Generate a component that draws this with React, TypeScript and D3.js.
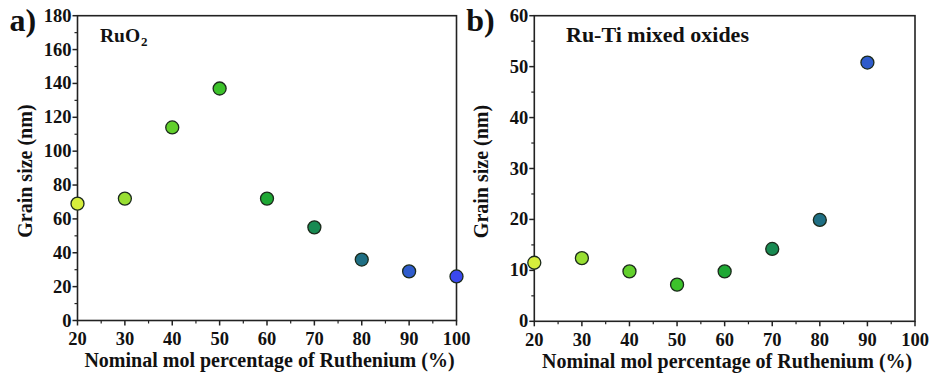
import React from "react";
import * as d3 from "d3";

const ruPercent = [20, 30, 40, 50, 60, 70, 80, 90, 100];
const grainRuO2 = [69, 72, 114, 137, 72, 55, 36, 29, 26];
const ruPercentMixed = [20, 30, 40, 50, 60, 70, 80, 90];
const grainMixed = [11.5, 12.4, 9.8, 7.2, 9.8, 14.2, 19.9, 50.8];
const pointColors = ["#d6ee3c", "#98df32", "#62d02c", "#3cc22a", "#1ea834", "#188a52", "#1f6f84", "#2f5ccc", "#3a48ee"];
const xTicks = [20, 30, 40, 50, 60, 70, 80, 90, 100];
const yTicksA = [0, 20, 40, 60, 80, 100, 120, 140, 160, 180];
const yTicksB = [0, 10, 20, 30, 40, 50, 60];

const font = "Liberation Serif, Tinos, Times New Roman, DejaVu Serif, serif";
const ts = (size: number): React.CSSProperties => ({ fontFamily: font, fontWeight: 700, fontSize: size });

type PanelProps = {
  left: number;
  right: number;
  top: number;
  bottom: number;
  xs: number[];
  ys: number[];
  yMax: number;
  yTicks: number[];
  yMinorStep: number;
  letter: string;
  title: React.ReactNode;
  titleX: number;
  titleSize: number;
};

function Panel(p: PanelProps) {
  const x = d3.scaleLinear().domain([20, 100]).range([p.left, p.right]);
  const y = d3.scaleLinear().domain([0, p.yMax]).range([p.bottom, p.top]);
  const xMinor = d3.range(25, 100, 10);
  const yMinor = d3.range(p.yMinorStep, p.yMax, p.yMinorStep * 2);
  return (
    <g>
      <rect x={p.left} y={p.top} width={p.right - p.left} height={p.bottom - p.top} fill="none" stroke="#222" strokeWidth={1.6} />
      {xTicks.map((t) => (
        <g key={"xt" + t}>
          <line x1={x(t)} x2={x(t)} y1={p.bottom} y2={p.bottom + 5} stroke="#222" strokeWidth={1.5} />
          <text x={x(t)} y={p.bottom + 24.5} textAnchor="middle" style={ts(18.5)} fill="#111">{t}</text>
        </g>
      ))}
      {xMinor.map((t) => (
        <line key={"xm" + t} x1={x(t)} x2={x(t)} y1={p.bottom} y2={p.bottom + 3} stroke="#222" strokeWidth={1.2} />
      ))}
      {p.yTicks.map((t) => (
        <g key={"yt" + t}>
          <line x1={p.left - 5} x2={p.left} y1={y(t)} y2={y(t)} stroke="#222" strokeWidth={1.5} />
          <text x={p.left - 6} y={y(t) + 6} textAnchor="end" style={ts(18.5)} fill="#111">{t}</text>
        </g>
      ))}
      {yMinor.map((t) => (
        <line key={"ym" + t} x1={p.left - 3} x2={p.left} y1={y(t)} y2={y(t)} stroke="#222" strokeWidth={1.2} />
      ))}
      <text x={(p.left + p.right) / 2 + 2.5} y={p.bottom + 46.5} textAnchor="middle" style={ts(20)} fill="#111">
        Nominal mol percentage of Ruthenium (%)
      </text>
      <text
        transform={`translate(${p.left - 46},${(p.top + p.bottom) / 2 + 3}) rotate(-90)`}
        textAnchor="middle"
        style={ts(20)}
        fill="#111"
      >
        Grain size (nm)
      </text>
      <text x={p.left - 68} y={p.top + 15} style={ts(32)} fill="#111">{p.letter}</text>
      <text x={p.titleX} y={p.top + 26} style={ts(p.titleSize)} fill="#111">{p.title}</text>
      {p.xs.map((xv, i) => (
        <circle key={"pt" + i} cx={x(xv)} cy={y(p.ys[i])} r={6.5} fill={pointColors[i]} stroke="#1b2a1b" strokeWidth={1.3} />
      ))}
    </g>
  );
}

export default function App() {
  return (
    <svg width={933} height={376} style={{ display: "block", position: "absolute", left: 0, top: 0 }}>
      <rect x={0} y={0} width={933} height={376} fill="#fff" />
      <Panel
        left={77.5}
        right={456.5}
        top={15.7}
        bottom={320.5}
        xs={ruPercent}
        ys={grainRuO2}
        yMax={180}
        yTicks={yTicksA}
        yMinorStep={10}
        letter="a)"
        title={<tspan>RuO<tspan style={{ fontSize: 13 }} dx={1} dy={4}>2</tspan></tspan>}
        titleX={100}
        titleSize={19.5}
      />
      <Panel
        left={534.3}
        right={915}
        top={15.7}
        bottom={321.3}
        xs={ruPercentMixed}
        ys={grainMixed}
        yMax={60}
        yTicks={yTicksB}
        yMinorStep={5}
        letter="b)"
        title="Ru-Ti mixed oxides"
        titleX={566}
        titleSize={22}
      />
    </svg>
  );
}
